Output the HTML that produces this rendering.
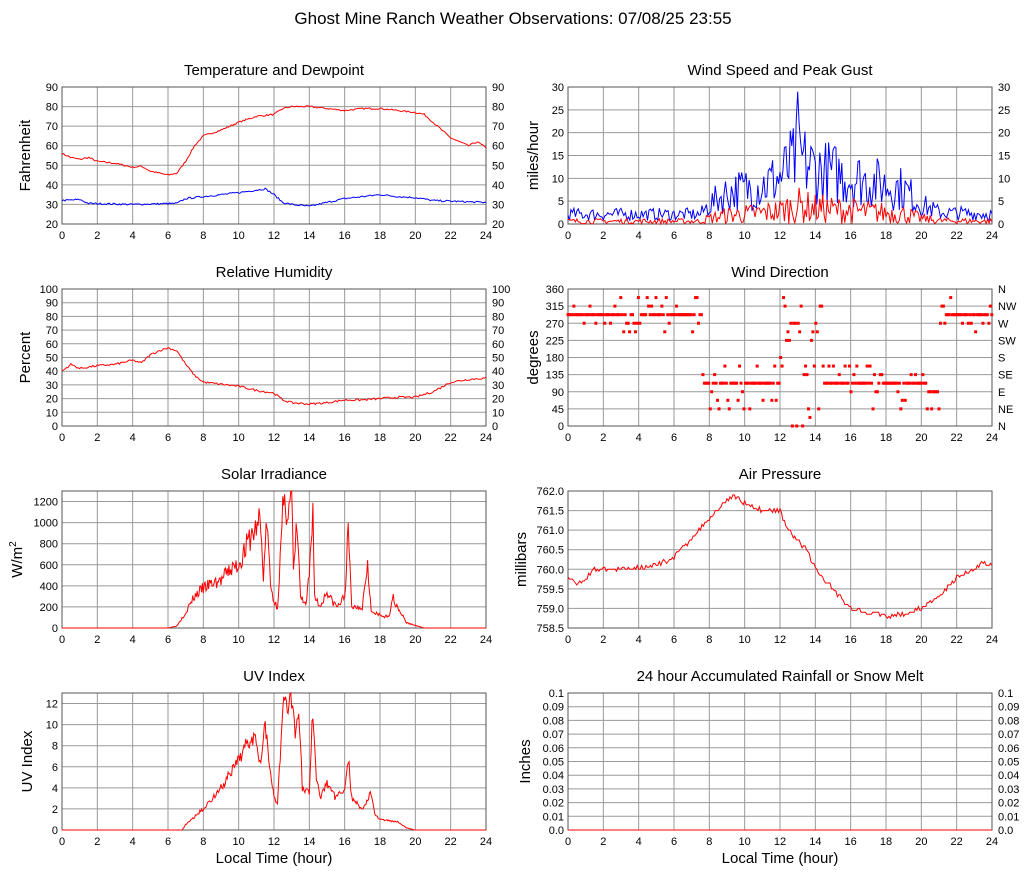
<!DOCTYPE html>
<html><head><meta charset="utf-8"><style>
body{margin:0;background:#fff;}
svg text{font-family:"Liberation Sans",sans-serif;fill:#000;}
</style></head><body>
<svg id="s" width="1027" height="878" xmlns="http://www.w3.org/2000/svg">
<text x="513" y="24" font-size="17" text-anchor="middle">Ghost Mine Ranch Weather Observations: 07/08/25 23:55</text>
</svg>
<script>
var S=document.getElementById('s'),NS='http://www.w3.org/2000/svg';
function el(t,a,txt){var e=document.createElementNS(NS,t);for(var k in a)e.setAttribute(k,a[k]);if(txt!=null)e.textContent=txt;S.appendChild(e);return e;}
var seed=7;function rnd(){seed=(seed*16807)%2147483647;return seed/2147483647;}
function interp(pts,t){for(var i=1;i<pts.length;i++){if(t<=pts[i][0]){var a=pts[i-1],b=pts[i];return a[1]+(b[1]-a[1])*(t-a[0])/(b[0]-a[0]);}}return pts[pts.length-1][1];}
function panel(o){
 var x0=o.x,y0=o.y,w=424,h=137,ymin=o.min,ymax=o.max;
 var X=function(t){return x0+t/24*w},Y=function(v){return y0+h-(v-ymin)/(ymax-ymin)*h};
 el('text',{x:x0+w/2,y:y0-12,'font-size':15,'text-anchor':'middle'},o.title);
 for(var t=0;t<=24;t+=2){ if(t>0&&t<24)el('line',{x1:X(t),y1:y0,x2:X(t),y2:y0+h,stroke:'#999'});
  el('text',{x:X(t),y:y0+h+15,'font-size':11,'text-anchor':'middle'},t);}
 o.ticks.forEach(function(v,i){var y=Y(v);if(v>ymin&&v<ymax)el('line',{x1:x0,y1:y,x2:x0+w,y2:y,stroke:'#999'});
  el('text',{x:x0-4,y:y+4,'font-size':11,'text-anchor':'end'},o.lab?o.lab[i]:v);
  if(o.right)el('text',{x:x0+w+6,y:y+4,'font-size':11},o.rlab?o.rlab[i]:(o.lab?o.lab[i]:v));});
 el('rect',{x:x0,y:y0,width:w,height:h,fill:'none',stroke:'#555'});
 var yl=el('text',{x:0,y:0,'font-size':15,'text-anchor':'middle',transform:'translate('+(x0-o.yo)+','+(y0+h/2)+') rotate(-90)'},o.ylabel);
 if(o.sup){yl.textContent='W/m';var ts=document.createElementNS(NS,'tspan');ts.setAttribute('dy','-6');ts.setAttribute('font-size','10');ts.textContent='2';yl.appendChild(ts);}
 (o.series||[]).forEach(function(s){var p=[];for(var i=0;i<=s.n;i++){var t=24*i/s.n;var v=s.f(t);v=Math.max(ymin,Math.min(ymax,v));p.push(X(t).toFixed(1)+','+Y(v).toFixed(1));}
  el('polyline',{points:p.join(' '),fill:'none',stroke:s.c,'stroke-width':1});});
 if(o.dots)o.dots.forEach(function(d){el('rect',{x:X(d[0])-1.5,y:Y(d[1])-1.5,width:3,height:3,fill:'red'});});
 if(o.xlabel)el('text',{x:x0+w/2,y:y0+h+33,'font-size':15,'text-anchor':'middle'},o.xlabel);
}
function rng(a,b,s){var r=[];for(var v=a;v<=b+1e-9;v+=s)r.push(+v.toFixed(3));return r;}
var T=[[0,56],[0.5,54],[1,53],[1.5,54],[2,52],[3,51],[4,49],[4.5,49.5],[5,47],[6,45],[6.5,46],[7,52],[7.5,60],[8,65],[9,68],[10,72],[11,75],[12,76],[12.5,79],[13,80],[14,80],[15,79],[16,78],[17,79],[18,79],[19,78],[20,77],[20.5,76],[21,72],[22,64],[23,60],[23.5,62],[24,59]];
var D=[[0,32],[1,32.5],[1.5,30.5],[4,30],[6.5,30.5],[7,33],[8,34],[10,36],[11.5,38],[12,35],[12.5,31],[13,30],[14,29],[15,31],[16,33],[17,34],[18,35],[19,34],[20,33.5],[21,32],[24,31]];
panel({x:62,y:87,min:20,max:90,ticks:rng(20,90,10),right:1,title:'Temperature and Dewpoint',ylabel:'Fahrenheit',yo:32,
 series:[{n:288,c:'red',f:function(t){return interp(T,t)+(rnd()-.5)*0.8}},{n:288,c:'blue',f:function(t){return interp(D,t)+(rnd()-.5)*0.9}}]});
var G=[[0,2.5],[7.5,2.5],[8,5],[9,8],[10,9],[11,10],[12,12],[13,17],[14,14],[15,13],[16,12],[17,11],[18,10],[19,9],[20,5],[21,3],[24,2.5]];
panel({x:568,y:87,min:0,max:30,ticks:rng(0,30,5),right:1,title:'Wind Speed and Peak Gust',ylabel:'miles/hour',yo:30,
 series:[{n:288,c:'blue',f:function(t){if(Math.abs(t-13)<0.05)return 29;return interp(G,t)*(0.3+rnd()*1.1)}},{n:288,c:'red',f:function(t){return interp(G,t)*(rnd()*0.8)*0.6}}]});
var H=[[0,40],[0.5,45],[1,42],[2,44],[3,45],[4,48],[4.5,46],[5,52],[5.5,55],[6,57],[6.5,55],[7,45],[7.5,37],[8,32],[10,29],[11,26],[12,24],[12.5,19],[13,17],[14,16],[15,17],[16,19],[17,19],[18,20],[19,21],[20,21],[21,25],[22,32],[23,34],[24,35]];
panel({x:62,y:289,min:0,max:100,ticks:rng(0,100,10),right:1,title:'Relative Humidity',ylabel:'Percent',yo:32,
 series:[{n:288,c:'red',f:function(t){return interp(H,t)+(rnd()-.5)*1.5}}]});
var dots=[];seed=11;
for(var t=0;t<=24;t+=0.083){var v,r=rnd();
 if(t<7.6||t>21){v=r<0.7?292.5:(r<0.82?270:(r<0.9?315:(r<0.95?247.5:337.5)));if(t>20.8&&t<21.3)v=r<0.5?270:315;}
 else if(t>=12&&t<14.5){var c=[0,22.5,45,180,225,247.5,315,337.5,270,135,157.5];v=c[Math.floor(r*c.length)];}
 else if(t>20.3){v=r<0.5?45:90;}
 else {v=r<0.6?112.5:[90,67.5,45,135,157.5][Math.floor(rnd()*5)];}
 dots.push([t,v]);}
panel({x:568,y:289,min:0,max:360,ticks:rng(0,360,45),right:1,rlab:['N','NE','E','SE','S','SW','W','NW','N'],title:'Wind Direction',ylabel:'degrees',yo:30,dots:dots});
var SO=[[0,0],[6,0],[6.5,20],[7,150],[7.5,300],[8,380],[8.5,420],[9,450],[9.5,550],[10,600],[10.5,800],[11,950],[11.2,1050],[11.4,500],[11.6,1030],[11.8,400],[12,250],[12.2,200],[12.5,1100],[12.8,1150],[13,1300],[13.1,500],[13.3,1000],[13.5,300],[13.8,200],[14,500],[14.2,1150],[14.3,300],[14.6,200],[15,350],[15.3,250],[15.6,200],[16,300],[16.2,900],[16.4,200],[17,200],[17.3,650],[17.5,150],[18,120],[18.5,100],[18.7,300],[19,200],[19.5,50],[20.5,0],[24,0]];
seed=3;
panel({x:62,y:491,min:0,max:1300,ticks:rng(0,1200,200),title:'Solar Irradiance',ylabel:'W/m2',sup:1,yo:40,
 series:[{n:480,c:'red',f:function(t){var v=interp(SO,t);return v>0?v*(0.85+rnd()*0.3):0}}]});
var P=[[0,759.8],[0.5,759.6],[1,759.8],[1.5,760],[3,760],[4,760.05],[5,760.1],[6,760.3],[7,760.8],[8,761.3],[9,761.8],[9.5,761.85],[10,761.7],[11,761.5],[12,761.5],[12.5,761],[13.5,760.5],[14,760],[15,759.5],[16,759],[17,758.9],[18,758.8],[19,758.85],[20,759],[21,759.3],[22,759.8],[23,760],[23.5,760.2],[24,760.1]];
panel({x:568,y:491,min:758.5,max:762,ticks:rng(758.5,762,0.5),lab:['758.5','759.0','759.5','760.0','760.5','761.0','761.5','762.0'],title:'Air Pressure',ylabel:'millibars',yo:42,
 series:[{n:288,c:'red',f:function(t){return Math.round((interp(P,t)+(rnd()-.5)*0.12)*20)/20}}]});
var U=[[0,0],[6.8,0],[7,0.5],[8,2],[9,4],[10,6.5],[10.5,8.5],[11,9],[11.2,6.5],[11.5,10],[12,3],[12.2,2.5],[12.5,11.5],[13,12.8],[13.2,9],[13.4,12],[13.6,4],[14,3.5],[14.2,11.5],[14.4,5],[14.6,3],[15,4.5],[15.5,3],[16,4],[16.2,7],[16.4,3],[17,2],[17.5,3.5],[17.7,1.5],[18,1],[19,0.8],[19.5,0.2],[20,0],[24,0]];
panel({x:62,y:693,min:0,max:13,ticks:rng(0,12,2),title:'UV Index',ylabel:'UV Index',yo:30,xlabel:'Local Time (hour)',
 series:[{n:480,c:'red',f:function(t){var v=interp(U,t);return v>0?v*(0.9+rnd()*0.2):0}}]});
panel({x:568,y:693,min:0,max:0.1,ticks:rng(0,0.1,0.01),lab:['0.0','0.01','0.02','0.03','0.04','0.05','0.06','0.07','0.08','0.09','0.1'],right:1,title:'24 hour Accumulated Rainfall or Snow Melt',ylabel:'Inches',yo:38,xlabel:'Local Time (hour)',
 series:[{n:2,c:'red',f:function(){return 0}}]});
</script>
</body></html>
